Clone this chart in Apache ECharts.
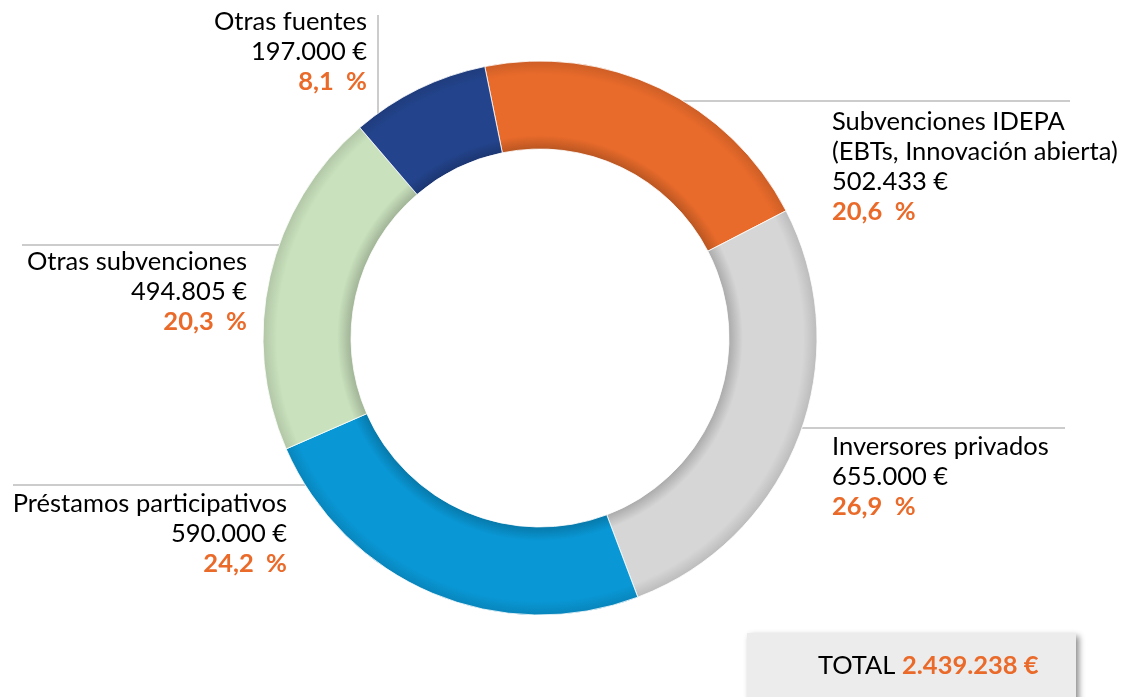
<!DOCTYPE html>
<html>
<head>
<meta charset="utf-8">
<script src="https://cdn.jsdelivr.net/npm/echarts@6/dist/echarts.min.js"></script>
<style>
  html, body { margin: 0; padding: 0; background: #fff; }
  #chart { width: 1122px; height: 697px; }
</style>
</head>
<body>
<div id="chart"></div>
<script>
// datos
const categories = [
  'Subvenciones IDEPA\n(EBTs, Innovación abierta)',
  'Inversores privados',
  'Préstamos participativos',
  'Otras subvenciones',
  'Otras fuentes'
]
const amounts = [502433, 655000, 590000, 494805, 197000]
const sliceColors = ['#e96b2b', '#d6d6d6', '#0997d5', '#c9e1bd', '#23448d']

// posiciones de etiquetas y líneas guía
const labelPos = [
  { x: 832, y: 107, align: 'left', line: [[652, 101], [861, 101], [1070, 101]] },
  { x: 832, y: 432, align: 'left', line: [[734, 428], [900, 428], [1065, 428]] },
  { x: 287, y: 489, align: 'right', line: [[13, 485], [180, 485], [345, 485]] },
  { x: 247, y: 247, align: 'right', line: [[22, 245], [170, 245], [320, 245]] },
  { x: 367, y: 7, align: 'right', line: [[378, 15], [378, 80], [378, 153]] }
]

const cx = 540, cy = 338, rIn = 189, rOut = 277
const orange = '#ea6a2a'
const font = 'Lato, "Open Sans", sans-serif'
const fs = 25.5

function fmtNum(n) {
  return String(n).replace(/\B(?=(\d{3})+(?!\d))/g, '.')
}
function shade(hex, f) {
  const v = parseInt(hex.slice(1), 16)
  const r = Math.round(((v >> 16) & 255) * f)
  const g = Math.round(((v >> 8) & 255) * f)
  const b = Math.round((v & 255) * f)
  return 'rgb(' + r + ',' + g + ',' + b + ')'
}
function bevel(c) {
  const k = rIn / rOut
  return {
    type: 'radial', x: cx, y: cy, r: rOut, global: true,
    colorStops: [
      { offset: 0, color: shade(c, 0.8) },
      { offset: k, color: shade(c, 0.8) },
      { offset: k + 0.05, color: c },
      { offset: 0.95, color: c },
      { offset: 1, color: shade(c, 0.88) }
    ]
  }
}

const total = amounts.reduce((a, b) => a + b, 0)

const chart = echarts.init(document.getElementById('chart'))
chart.setOption({
  animation: false,
  series: [{
    type: 'pie',
    center: [cx, cy],
    radius: [rIn, rOut],
    startAngle: 101.5,
    clockwise: true,
    itemStyle: { borderColor: '#ffffff', borderWidth: 0.8 },
    label: {
      show: true,
      overflow: 'none',
      fontFamily: font,
      formatter: function (p) {
        const pct = (p.value / total * 100).toFixed(1).replace('.', ',')
        return '{n|' + p.name + '}\n{v|' + fmtNum(p.value) + ' €}\n{p|' + pct + '  %}'
      },
      rich: {
        n: { fontFamily: font, fontSize: fs, color: '#000', lineHeight: 30 },
        v: { fontFamily: font, fontSize: fs, color: '#000', lineHeight: 30 },
        p: { fontFamily: font, fontSize: fs, fontWeight: 'bold', color: orange, lineHeight: 30 }
      }
    },
    labelLine: { show: true, lineStyle: { color: '#999', width: 1 } },
    labelLayout: function (params) {
      const l = labelPos[params.dataIndex]
      return {
        x: l.x, y: l.y, align: l.align, verticalAlign: 'top',
        labelLinePoints: l.line
      }
    },
    data: categories.map((name, i) => ({
      name: name,
      value: amounts[i],
      itemStyle: { color: bevel(sliceColors[i]) }
    }))
  }],
  graphic: [
    {
      type: 'rect',
      shape: { x: 747, y: 633, width: 329, height: 80 },
      style: {
        fill: '#ececec',
        shadowBlur: 6, shadowOffsetX: 3, shadowOffsetY: 3,
        shadowColor: 'rgba(0,0,0,0.45)'
      }
    },
    {
      type: 'text',
      x: 818, y: 666,
      style: {
        text: '{t|TOTAL }{a|' + fmtNum(total) + ' €}',
        verticalAlign: 'middle',
        rich: {
          t: { fontFamily: font, fontSize: fs, fill: '#000' },
          a: { fontFamily: font, fontSize: fs, fontWeight: 'bold', fill: orange }
        }
      }
    }
  ]
})
</script>
</body>
</html>
